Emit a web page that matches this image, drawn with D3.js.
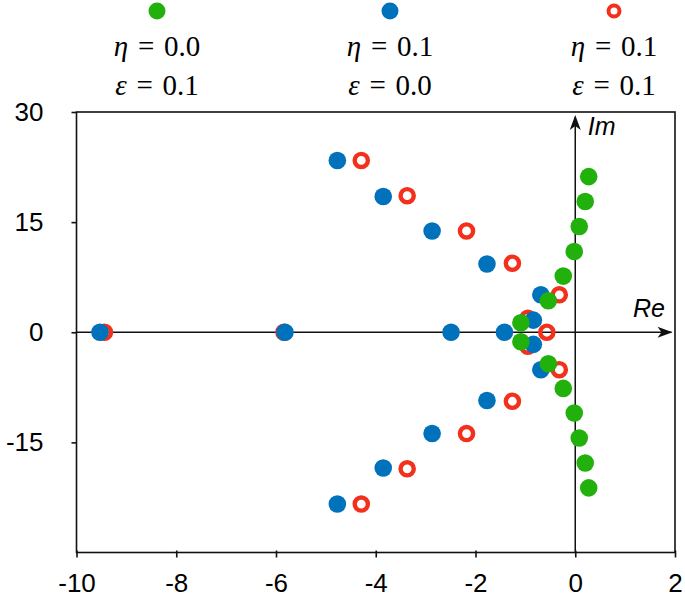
<!DOCTYPE html>
<html><head><meta charset="utf-8">
<script src="https://cdn.jsdelivr.net/npm/d3@7"></script>
<style>body{margin:0;background:#fff}svg{display:block}</style>
</head><body>
<svg id="c" width="685" height="603"></svg>
<script>
// Data: [real part, imaginary part]
const greenRe = [-1.09,-0.54,-0.24,-0.02,0.08,0.20,0.27,-1.09,-0.54,-0.24,-0.02,0.08,0.20,0.27];
const greenIm = [1.3,4.3,7.65,11.0,14.4,17.8,21.2,-1.3,-4.3,-7.65,-11.0,-14.4,-17.8,-21.2];
const blueRe = [-9.53,-5.82,-2.49,-1.42,-0.84,-0.69,-1.77,-2.87,-3.85,-4.77,-0.84,-0.69,-1.77,-2.87,-3.85,-4.77];
const blueIm = [0,0,0,0,1.65,5.1,9.3,13.8,18.5,23.4,-1.65,-5.1,-9.3,-13.8,-18.5,-23.4];
const redRe = [-9.44,-5.84,-0.57,-0.95,-0.32,-1.26,-2.18,-3.37,-4.29,-0.95,-0.32,-1.26,-2.18,-3.37,-4.29];
const redIm = [0,0,0,1.9,5.1,9.4,13.8,18.6,23.4,-1.9,-5.1,-9.4,-13.8,-18.6,-23.4];
const xTicks = [-10,-8,-6,-4,-2,0,2];
const yTicks = [30,15,0,-15];
const legendEta = ["0.0","0.1","0.1"];
const legendEps = ["0.1","0.0","0.1"];

const GREEN = "#22b10c", BLUE = "#0071bb", RED = "#f2301c";
const svg = d3.select("#c");
const x = d3.scaleLinear().domain([-10,2]).range([76.5,675]);
const y = d3.scaleLinear().domain([-30,30]).range([552.5,112]);
const fmt = d => String(d); // plain hyphen-minus as in the reference

// frame
svg.append("rect").attr("x",x(-10)).attr("y",y(30)).attr("width",x(2)-x(-10)).attr("height",y(-30)-y(30))
  .attr("fill","none").attr("stroke","#111").attr("stroke-width",1.6);

// axes
const xa = svg.append("g").attr("transform",`translate(0,${y(-30)})`)
  .call(d3.axisBottom(x).tickValues(xTicks).tickFormat(fmt).tickSize(5).tickPadding(16));
xa.select(".domain").remove();
xa.selectAll(".tick line").attr("y1",-2).attr("stroke","#111").attr("stroke-width",1.6);
xa.selectAll("text").attr("font-family","Liberation Sans, Arial, sans-serif").attr("font-size",26).attr("fill","#000");

const ya = svg.append("g").attr("transform",`translate(${x(-10)},0)`)
  .call(d3.axisLeft(y).tickValues(yTicks).tickFormat(fmt).tickSize(5).tickPadding(28));
ya.select(".domain").remove();
ya.selectAll(".tick line").attr("stroke","#111").attr("stroke-width",1.6);
ya.selectAll("text").attr("font-family","Liberation Sans, Arial, sans-serif").attr("font-size",26).attr("fill","#000");

// inner Re / Im axes with arrows
const ax = svg.append("g").attr("stroke","#111").attr("stroke-width",1.5);
ax.append("line").attr("x1",x(-10)).attr("x2",x(1.93)).attr("y1",y(0)).attr("y2",y(0));
ax.append("line").attr("x1",x(0)).attr("x2",x(0)).attr("y1",y(-30)).attr("y2",y(29.3));
const tipX = x(1.95), tipY = y(0);
svg.append("path").attr("d",`M${tipX},${tipY} L${tipX-15},${tipY-5.5} L${tipX-11},${tipY} L${tipX-15},${tipY+5.5} Z`).attr("fill","#111");
const vX = x(0), vY = y(29.6);
svg.append("path").attr("d",`M${vX},${vY} L${vX-5.5},${vY+15} L${vX},${vY+11} L${vX+5.5},${vY+15} Z`).attr("fill","#111");
svg.append("text").attr("x",x(1.8)).attr("y",y(2.1)).attr("text-anchor","end")
  .attr("font-family","Liberation Sans, Arial, sans-serif").attr("font-style","italic").attr("font-size",25).text("Re");
svg.append("text").attr("x",x(0.25)).attr("y",y(26.9))
  .attr("font-family","Liberation Sans, Arial, sans-serif").attr("font-style","italic").attr("font-size",25).text("Im");

// points: red (hollow) under blue under green
const r = 8.8;
svg.append("g").selectAll("circle").data(d3.range(redRe.length)).join("circle")
  .attr("cx",i=>x(redRe[i])).attr("cy",i=>y(redIm[i])).attr("r",6.6)
  .attr("fill","none").attr("stroke",RED).attr("stroke-width",4.4);
svg.append("g").selectAll("circle").data(d3.range(blueRe.length)).join("circle")
  .attr("cx",i=>x(blueRe[i])).attr("cy",i=>y(blueIm[i])).attr("r",r).attr("fill",BLUE);
svg.append("g").selectAll("circle").data(d3.range(greenRe.length)).join("circle")
  .attr("cx",i=>x(greenRe[i])).attr("cy",i=>y(greenIm[i])).attr("r",r).attr("fill",GREEN);

// legend
const legX = [157,390,614];
const legC = [GREEN,BLUE,RED];
const lg = svg.append("g");
legX.forEach((cx,i)=>{
  if (i===2) lg.append("circle").attr("cx",cx).attr("cy",11).attr("r",5.5).attr("fill","none").attr("stroke",legC[i]).attr("stroke-width",4);
  else lg.append("circle").attr("cx",cx).attr("cy",11).attr("r",8.5).attr("fill",legC[i]);
  const t1 = lg.append("text").attr("x",cx).attr("y",56).attr("text-anchor","middle")
    .attr("font-family","Liberation Serif, Times New Roman, serif").attr("font-size",29);
  t1.append("tspan").attr("font-style","italic").text("η");
  t1.append("tspan").text("\u2004=\u2004" + legendEta[i]);
  const t2 = lg.append("text").attr("x",cx).attr("y",95).attr("text-anchor","middle")
    .attr("font-family","Liberation Serif, Times New Roman, serif").attr("font-size",29);
  t2.append("tspan").attr("font-style","italic").text("ε");
  t2.append("tspan").text("\u2004=\u2004" + legendEps[i]);
});
</script>
</body></html>
